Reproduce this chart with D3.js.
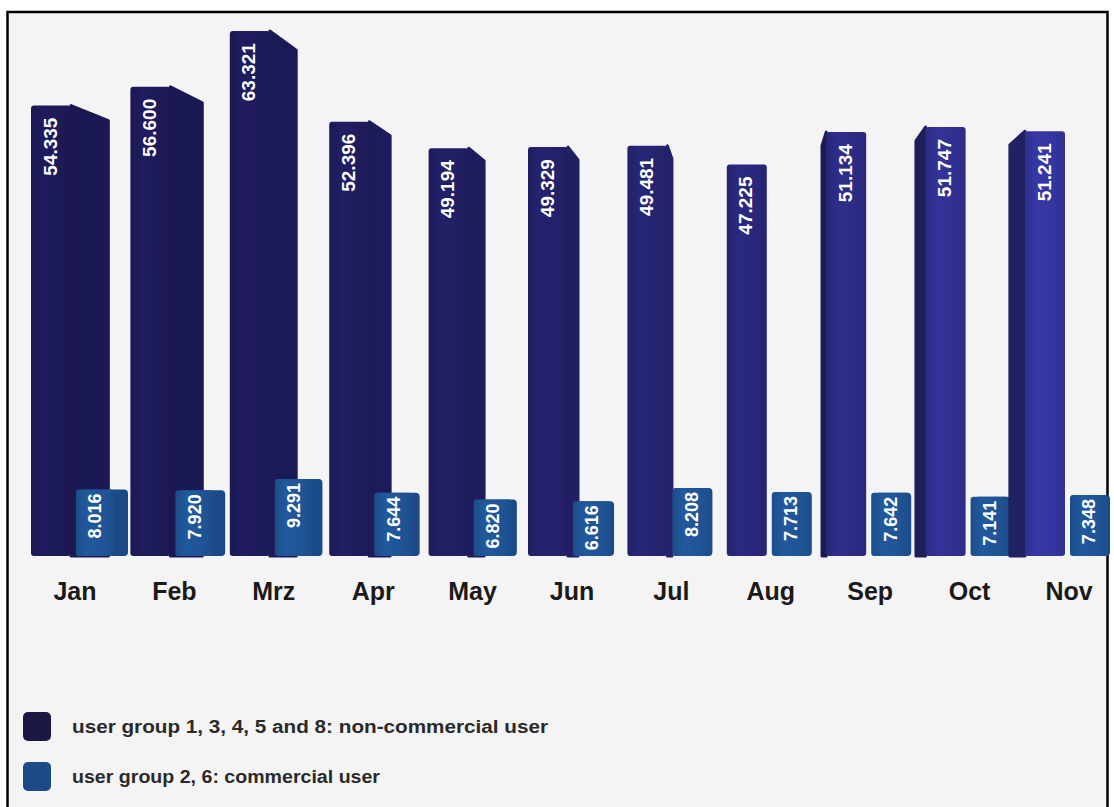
<!doctype html>
<html>
  <head>
    <script src="https://d3js.org/d3.v7.min.js"></script>
    <style>
      body { margin: 0; background: #ffffff; }
    </style>
  </head>
  <body>
    <script>
    // data
    var months = ["Jan", "Feb", "Mrz", "Apr", "May", "Jun", "Jul", "Aug", "Sep", "Oct", "Nov"];
    var nonCommercial = [54.335, 56.600, 63.321, 52.396, 49.194, 49.329, 49.481, 47.225, 51.134, 51.747, 51.241];
    var commercial = [8.016, 7.920, 9.291, 7.644, 6.820, 6.616, 8.208, 7.713, 7.642, 7.141, 7.348];
    var legendLabels = ["user group 1, 3, 4, 5 and 8: non-commercial user", "user group 2, 6: commercial user"];

    var width = 1114;
    var height = 807;

    var svg = d3.select("body")
              .append("svg")
              .attr("width", width)
              .attr("height", height);

    var defs = svg.append("defs");

    // frame
    svg.append("rect")
      .attr("x", 7.5)
      .attr("y", 12)
      .attr("width", 1100)
      .attr("height", 820)
      .attr("fill", "#f4f4f4")
      .attr("stroke", "#000")
      .attr("stroke-width", 2.5);

    var x = d3.scaleBand()
              .domain(months)
              .range([31, 31 + 99.4 * months.length])
              .paddingInner(0)
              .paddingOuter(0);

    var y = d3.scaleLinear()
              .domain([0, 60])
              .range([556, 58.6]);

    var vp = {x: 750, y: 380};
    var frontW = 40;
    var lightOffset = 45;
    var lightW = 38;
    var fmt = d3.format(".3f");

    function darkColor(i) {
      var t = i / (months.length - 1);
      return d3.interpolateRgb("#1d1a58", "#34359e")(t * t);
    }

    // side face of a dark bar seen in perspective
    function sidePath(x0, x1, top, base, k) {
      var xf, xb;
      if (x1 < vp.x) { xf = x1; }
      else if (x0 > vp.x) { xf = x0; }
      else { return null; }
      xb = xf + k * (vp.x - xf);
      var topB = top + k * (vp.y - top);
      return "M" + xf + "," + top + "L" + xb + "," + topB + "L" + xb + "," + base + "L" + xf + "," + base + "Z";
    }

    function addGradient(id, c) {
      var col = d3.color(c);
      var g = defs.append("linearGradient")
        .attr("id", id)
        .attr("x1", "0%").attr("x2", "100%")
        .attr("y1", "0%").attr("y2", "0%");
      g.append("stop").attr("offset", "0%").attr("stop-color", col.darker(0.25));
      g.append("stop").attr("offset", "30%").attr("stop-color", col.brighter(0.15));
      g.append("stop").attr("offset", "70%").attr("stop-color", col);
      g.append("stop").attr("offset", "100%").attr("stop-color", col.darker(0.2));
    }

    var base = y(0);
    var bars = svg.append("g");
    var labelFont = "Liberation Sans, Arial, sans-serif";

    months.forEach(function(m, i) {
      var x0 = x(m);
      var x1 = x0 + frontW;
      var top = y(nonCommercial[i]);
      var col = darkColor(i);
      var sideCol = x1 < vp.x ? d3.color(col).darker(0.15) : d3.color(col).darker(1.3);

      var sp = sidePath(x0, x1, top, base, 0.055);
      if (sp) {
        bars.append("path")
          .attr("d", sp)
          .attr("fill", sideCol)
          .attr("stroke", sideCol)
          .attr("stroke-width", 3)
          .attr("stroke-linejoin", "round");
      }
      addGradient("g-dark-" + i, col);
      bars.append("rect")
        .attr("x", x0)
        .attr("y", top)
        .attr("width", frontW)
        .attr("height", base - top)
        .attr("rx", 3)
        .attr("fill", "url(#g-dark-" + i + ")");

      // commercial bar in front, side face with a flat top
      var lx0 = x0 + lightOffset;
      var lx1 = lx0 + lightW;
      var ltop = y(commercial[i]);
      var lside = Math.max(2, 0.022 * (vp.x - lx1));
      bars.append("rect")
        .attr("x", lx0 + 4)
        .attr("y", ltop)
        .attr("width", lightW - 4 + lside)
        .attr("height", base - ltop)
        .attr("rx", 4)
        .attr("fill", "#1a4a88");
      addGradient("g-light-" + i, "#1f5496");
      bars.append("rect")
        .attr("x", lx0)
        .attr("y", ltop)
        .attr("width", lightW)
        .attr("height", base - ltop)
        .attr("rx", 3)
        .attr("fill", "url(#g-light-" + i + ")");

      // value labels
      bars.append("text")
        .attr("transform", "translate(" + (x0 + frontW / 2 - 1) + "," + (top + 12) + ") rotate(-90)")
        .attr("text-anchor", "end")
        .attr("dy", "0.35em")
        .attr("fill", "#fff")
        .attr("font-family", labelFont)
        .attr("font-weight", "bold")
        .attr("font-size", "19px")
        .text(fmt(nonCommercial[i]));

      bars.append("text")
        .attr("transform", "translate(" + (lx0 + lightW / 2) + "," + (ltop + 4) + ") rotate(-90)")
        .attr("text-anchor", "end")
        .attr("dy", "0.35em")
        .attr("fill", "#fff")
        .attr("font-family", labelFont)
        .attr("font-weight", "bold")
        .attr("font-size", "18px")
        .text(fmt(commercial[i]));
    });

    // month labels
    svg.append("g")
      .selectAll("text")
      .data(months)
      .enter()
      .append("text")
        .attr("x", function(d) { return x(d) + 44; })
        .attr("y", 600)
        .attr("text-anchor", "middle")
        .attr("fill", "#1a1a1a")
        .attr("font-family", labelFont)
        .attr("font-weight", "bold")
        .attr("font-size", "25px")
        .text(function(d) { return d; });

    // legend
    var legendColors = ["#1b1843", "#1c4a87"];
    var legendWidths = [476, 308];
    var legend = svg.append("g");
    legendLabels.forEach(function(l, i) {
      var ly = 712 + i * 50;
      legend.append("rect")
        .attr("x", 23)
        .attr("y", ly)
        .attr("width", 28)
        .attr("height", 29)
        .attr("rx", 5)
        .attr("fill", legendColors[i]);
      legend.append("text")
        .attr("x", 72)
        .attr("y", ly + 21)
        .attr("fill", "#2a2a2a")
        .attr("font-family", labelFont)
        .attr("font-weight", "bold")
        .attr("font-size", "18px")
        .attr("textLength", legendWidths[i])
        .attr("lengthAdjust", "spacingAndGlyphs")
        .text(l);
    });
    </script>
  </body>
</html>
